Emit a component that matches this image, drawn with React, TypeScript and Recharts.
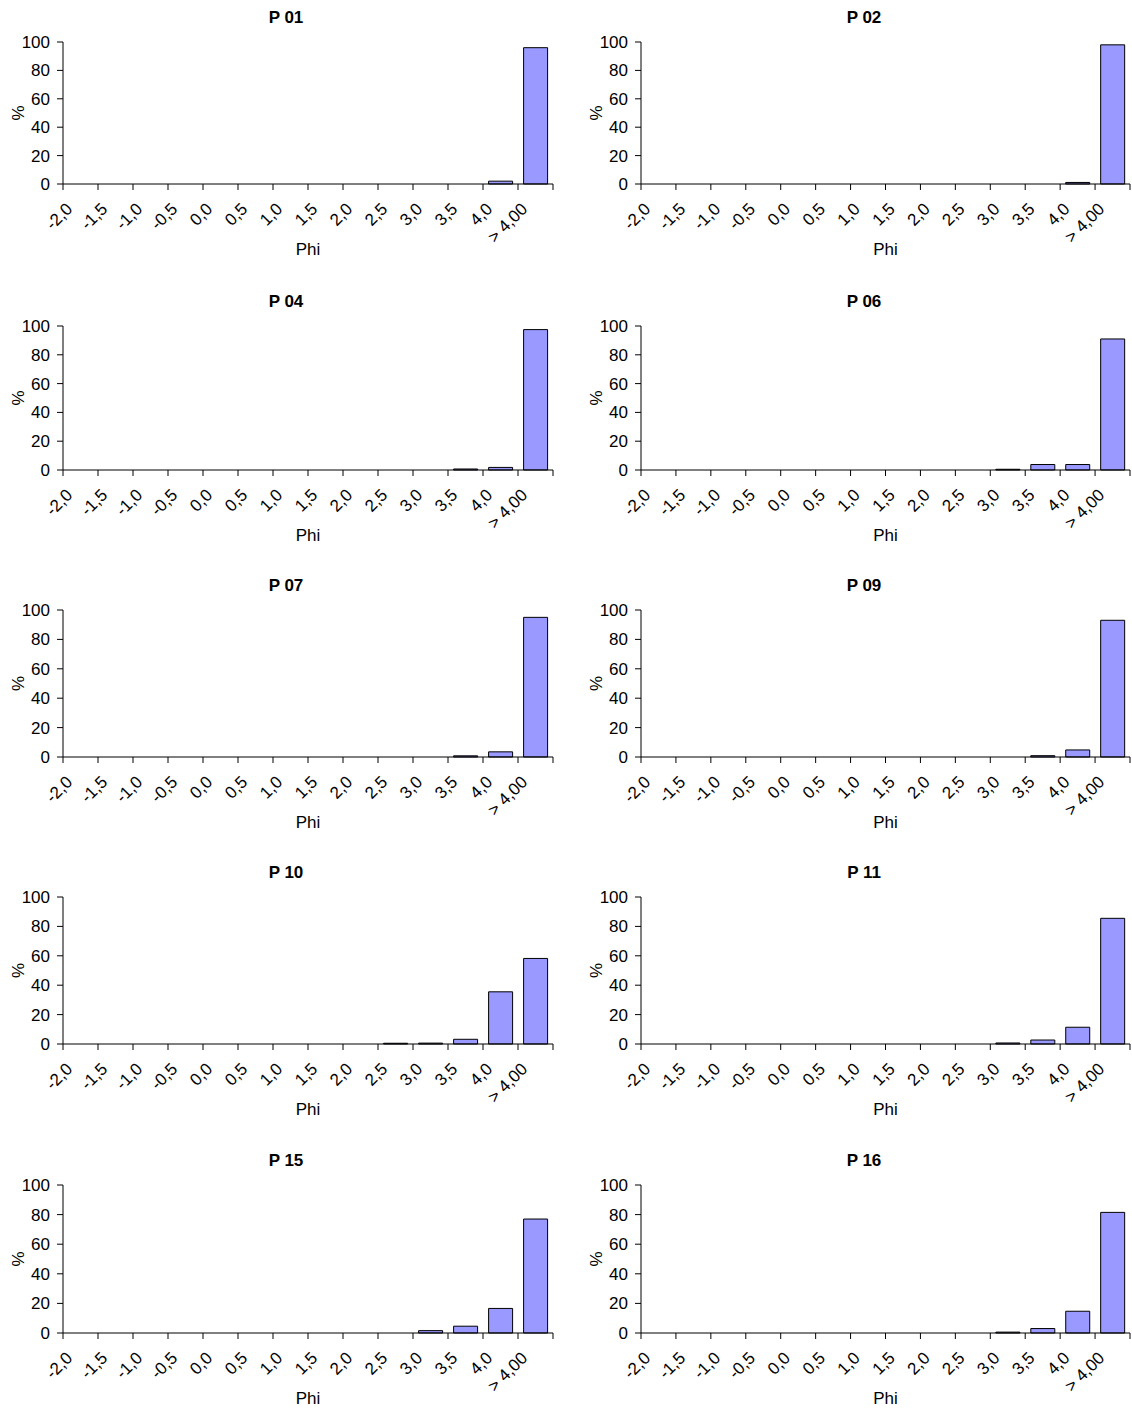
import { BarChart, Bar, XAxis, YAxis } from "recharts";

const phiLabels = ["-2,0", "-1,5", "-1,0", "-0,5", "0,0", "0,5", "1,0", "1,5", "2,0", "2,5", "3,0", "3,5", "4,0", "> 4,00"];
const yTicks = [0, 20, 40, 60, 80, 100];

const p01 = [0, 0, 0, 0, 0, 0, 0, 0, 0, 0, 0, 0, 2, 96];
const p02 = [0, 0, 0, 0, 0, 0, 0, 0, 0, 0, 0, 0, 1.1, 98];
const p04 = [0, 0, 0, 0, 0, 0, 0, 0, 0, 0, 0, 0.7, 1.8, 97.5];
const p06 = [0, 0, 0, 0, 0, 0, 0, 0, 0, 0, 0.5, 3.8, 3.8, 91];
const p07 = [0, 0, 0, 0, 0, 0, 0, 0, 0, 0, 0, 0.8, 3.5, 95];
const p09 = [0, 0, 0, 0, 0, 0, 0, 0, 0, 0, 0, 0.9, 4.8, 93];
const p10 = [0, 0, 0, 0, 0, 0, 0, 0, 0, 0.5, 0.6, 3.2, 35.5, 58.2];
const p11 = [0, 0, 0, 0, 0, 0, 0, 0, 0, 0, 0.7, 2.7, 11.4, 85.5];
const p15 = [0, 0, 0, 0, 0, 0, 0, 0, 0, 0, 1.6, 4.6, 16.6, 77];
const p16 = [0, 0, 0, 0, 0, 0, 0, 0, 0, 0, 0.6, 3, 14.7, 81.5];

const samples = [
  { title: "P 01", values: p01 },
  { title: "P 02", values: p02 },
  { title: "P 04", values: p04 },
  { title: "P 06", values: p06 },
  { title: "P 07", values: p07 },
  { title: "P 09", values: p09 },
  { title: "P 10", values: p10 },
  { title: "P 11", values: p11 },
  { title: "P 15", values: p15 },
  { title: "P 16", values: p16 },
];

// plot top (y of 100) and bottom (y of 0) per row
const rowTop = [42, 326, 610, 897, 1185];
const rowBottom = [184, 470, 757, 1044, 1333];

const font = '"Liberation Sans", Arial, sans-serif';

function PhiTick(props: any) {
  const { x, y, payload, index } = props;
  const half = payload.offset ?? 17.5;
  const tx = x - 7;
  const ty = y + 26;
  return (
    <g>
      <line x1={x - half} y1={y} x2={x - half} y2={y + 6} stroke="#000" />
      {index === phiLabels.length - 1 && <line x1={x + half} y1={y} x2={x + half} y2={y + 6} stroke="#000" />}
      <text x={tx} y={ty} transform={`rotate(-45, ${tx}, ${ty})`} textAnchor="end" fontSize={17} fill="#000" fontFamily={font}>
        {payload.value}
      </text>
    </g>
  );
}

function SieveChart({ title, values, left, top, plotH, width, right }: any) {
  const data = phiLabels.map((phi, i) => ({ phi, v: values[i] }));
  return (
    <div style={{ position: "absolute", left, top, width }}>
      <div style={{ position: "absolute", left: 0, width: 572, top: 8, textAlign: "center", fontWeight: "bold", fontSize: 17, lineHeight: "19px", fontFamily: font }}>
        {title}
      </div>
      <BarChart width={width} height={42 + plotH + 80} data={data} margin={{ top: 42, right, left: 0, bottom: 0 }} barCategoryGap="16%">
        <XAxis
          dataKey="phi"
          interval={0}
          tickLine={false}
          tickSize={0}
          tickMargin={0}
          height={80}
          stroke="#000"
          tick={<PhiTick />}
          label={{ value: "Phi", position: "insideBottom", offset: 9, fill: "#000", fontSize: 17, fontFamily: font }}
        />
        <YAxis
          domain={[0, 100]}
          ticks={yTicks}
          width={63}
          stroke="#000"
          tickSize={6}
          tickMargin={7}
          tick={{ fill: "#000", fontSize: 17, fontFamily: font }}
          label={{ value: "%", angle: -90, position: "center", dx: -14, fill: "#000", fontSize: 17, fontFamily: font }}
        />
        <Bar dataKey="v" fill="#9999ff" stroke="#000" strokeWidth={1} isAnimationActive={false} />
      </BarChart>
    </div>
  );
}

export default function App() {
  return (
    <div style={{ position: "absolute", left: 0, top: 0, width: 1132, height: 1410, background: "#fff", overflow: "hidden" }}>
      {samples.map((s, i) => {
        const row = Math.floor(i / 2);
        const col = i % 2;
        return (
          <SieveChart
            key={s.title}
            title={s.title}
            values={s.values}
            left={col === 0 ? 0 : 578}
            top={rowTop[row] - 42}
            plotH={rowBottom[row] - rowTop[row]}
            width={col === 0 ? 560 : 554}
            right={col === 0 ? 7 : 2}
          />
        );
      })}
    </div>
  );
}
